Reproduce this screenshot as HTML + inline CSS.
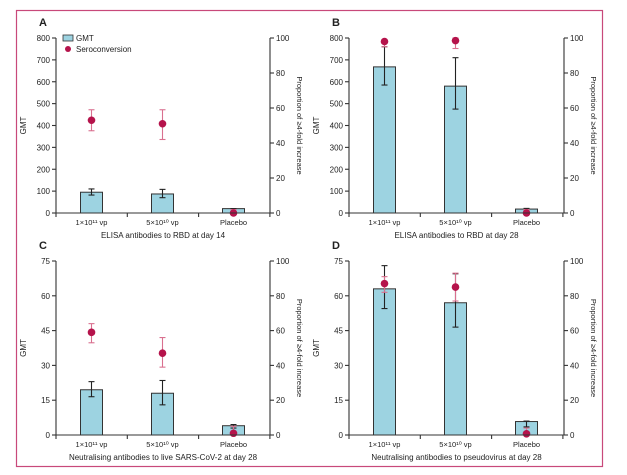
<!DOCTYPE html>
<html><head><meta charset="utf-8"><style>
html,body{margin:0;padding:0;background:#fff;width:627px;height:475px;overflow:hidden}
svg{display:block;font-family:"Liberation Sans",sans-serif}
</style></head><body>
<svg id="c" width="627" height="475" xmlns="http://www.w3.org/2000/svg">
<rect x="16.5" y="10.5" width="586" height="456" fill="none" stroke="#c8497a" stroke-width="1.2"/>
</svg>
<script>
const categories=["1×10¹¹ vp","5×10¹⁰ vp","Placebo"];
const gmtA=[95,87,20],gmtALo=[82,70,20],gmtAHi=[110,108,20];
const seroA=[53,51,0],seroALo=[47,42,0],seroAHi=[59,59,2];
const gmtB=[668,580,18],gmtBLo=[585,475,15],gmtBHi=[760,710,21];
const seroB=[98,98.5,0],seroBLo=[95,94,0],seroBHi=[99,100,2];
const gmtC=[19.5,18,4],gmtCLo=[16.5,13,3],gmtCHi=[23,23.5,4.5];
const seroC=[59,47,1],seroCLo=[53,39,0],seroCHi=[64,56,5];
const gmtD=[63,57,5.8],gmtDLo=[54.5,46.5,3.5],gmtDHi=[73,69.5,6];
const seroD=[87,85,0.7],seroDLo=[82,77,0],seroDHi=[91,93,4];
const ticks800=[0,100,200,300,400,500,600,700,800];
const ticks75=[0,15,30,45,60,75];
const ticksPct=[0,20,40,60,80,100];

const svg=document.getElementById('c');
const NS="http://www.w3.org/2000/svg";
function mk(tag,attrs,parent,text){const e=document.createElementNS(NS,tag);for(const k in attrs)e.setAttribute(k,attrs[k]);if(text!==undefined)e.textContent=text;(parent||svg).appendChild(e);return e;}

function panel(p){
  const g=mk('g',{});
  
  
  const yG=v=>p.y0-(v/p.max)*(p.y0-p.y1);
  const yP=v=>p.y0-(v/100)*(p.y0-p.y1);
  const xC=i=>p.xl+35.5+i*71;
  const lt=mk('text',{x:p.xl-17,y:p.y1-12,'font-size':11,'font-weight':'bold',fill:'#222'},g,p.id);
  
  // bars
  p.gmt.forEach((v,i)=>{
    const r=mk('rect',{x:xC(i)-11,y:yG(v),width:22,height:p.y0-yG(v),fill:'#9dd3e1',stroke:'#333','stroke-width':1},g);
    
    const e=mk('g',{stroke:'#222','stroke-width':1.1},g);
    
    mk('line',{x1:xC(i),x2:xC(i),y1:yG(p.lo[i]),y2:yG(p.hi[i])},e);
    mk('line',{x1:xC(i)-3,x2:xC(i)+3,y1:yG(p.lo[i]),y2:yG(p.lo[i])},e);
    mk('line',{x1:xC(i)-3,x2:xC(i)+3,y1:yG(p.hi[i]),y2:yG(p.hi[i])},e);
  });
  p.sero.forEach((v,i)=>{
    const e=mk('g',{stroke:'#d9708f','stroke-width':1.1},g);
    
    mk('line',{x1:xC(i),x2:xC(i),y1:yP(p.slo[i]),y2:yP(p.shi[i])},e);
    mk('line',{x1:xC(i)-3,x2:xC(i)+3,y1:yP(p.slo[i]),y2:yP(p.slo[i])},e);
    mk('line',{x1:xC(i)-3,x2:xC(i)+3,y1:yP(p.shi[i]),y2:yP(p.shi[i])},e);
    const c=mk('circle',{cx:xC(i),cy:yP(v),r:3.8,fill:'#b5134b'},g);
    
  });
  // axes
  const ax=mk('g',{stroke:'#333','stroke-width':1.1,fill:'none'},g);
  
  mk('line',{x1:p.xl,x2:p.xl,y1:p.y1,y2:p.y0},ax);
  mk('line',{x1:p.xr,x2:p.xr,y1:p.y1,y2:p.y0},ax);
  mk('line',{x1:p.xl,x2:p.xr,y1:p.y0,y2:p.y0},ax);
  [0,1,2,3].forEach(k=>{const x=p.xl+k*71.3;mk('line',{x1:x,x2:x,y1:p.y0,y2:p.y0+4},ax);});
  p.ticks.forEach(t=>{
    mk('line',{x1:p.xl-4,x2:p.xl,y1:yG(t),y2:yG(t)},ax);
    const tx=mk('text',{x:p.xl-6,y:yG(t)+3,'font-size':8,'text-anchor':'end',fill:'#222',stroke:'none'},g,t);
    
  });
  ticksPct.forEach(t=>{
    mk('line',{x1:p.xr,x2:p.xr+4,y1:yP(t),y2:yP(t)},ax);
    const tx=mk('text',{x:p.xr+6,y:yP(t)+3,'font-size':8,fill:'#222',stroke:'none'},g,t);
    
  });
  categories.forEach((c,i)=>{
    const tx=mk('text',{x:xC(i),y:p.y0+12,'font-size':7.5,'text-anchor':'middle',fill:'#222'},g,c);
    
  });
  const xt=mk('text',{x:(p.xl+p.xr)/2,y:p.y0+25,'font-size':8,'text-anchor':'middle',fill:'#222'},g,p.title);
  
  const my=(p.y0+p.y1)/2;
  const yt=mk('text',{x:p.xl-30,y:my,'font-size':8,'text-anchor':'middle',fill:'#222',transform:`rotate(-90 ${p.xl-30} ${my})`},g,'GMT');
  
  const rx=p.xr+27;
  const rt=mk('text',{x:rx,y:my,'font-size':7.5,'text-anchor':'middle',fill:'#222',transform:`rotate(90 ${rx} ${my})`},g,'Proportion of ≥4-fold increase');
  
}
panel({id:'A',xl:56,xr:270,y0:213,y1:38,max:800,ticks:ticks800,gmt:gmtA,lo:gmtALo,hi:gmtAHi,sero:seroA,slo:seroALo,shi:seroAHi,title:'ELISA antibodies to RBD at day 14'});
panel({id:'B',xl:349,xr:564,y0:213,y1:38,max:800,ticks:ticks800,gmt:gmtB,lo:gmtBLo,hi:gmtBHi,sero:seroB,slo:seroBLo,shi:seroBHi,title:'ELISA antibodies to RBD at day 28'});
panel({id:'C',xl:56,xr:270,y0:435,y1:261,max:75,ticks:ticks75,gmt:gmtC,lo:gmtCLo,hi:gmtCHi,sero:seroC,slo:seroCLo,shi:seroCHi,title:'Neutralising antibodies to live SARS-CoV-2 at day 28'});
panel({id:'D',xl:349,xr:564,y0:435,y1:261,max:75,ticks:ticks75,gmt:gmtD,lo:gmtDLo,hi:gmtDHi,sero:seroD,slo:seroDLo,shi:seroDHi,title:'Neutralising antibodies to pseudovirus at day 28'});
// legend
const lg=mk('g',{});


const l1=mk('rect',{x:63,y:35,width:10,height:6,fill:'#9dd3e1',stroke:'#333','stroke-width':0.8},lg);


mk('text',{x:76,y:41,'font-size':8,fill:'#222'},lg,'GMT');
const l2=mk('circle',{cx:68,cy:49,r:3,fill:'#b5134b'},lg);


mk('text',{x:76,y:52,'font-size':8,fill:'#222'},lg,'Seroconversion');
</script>
</body></html>
